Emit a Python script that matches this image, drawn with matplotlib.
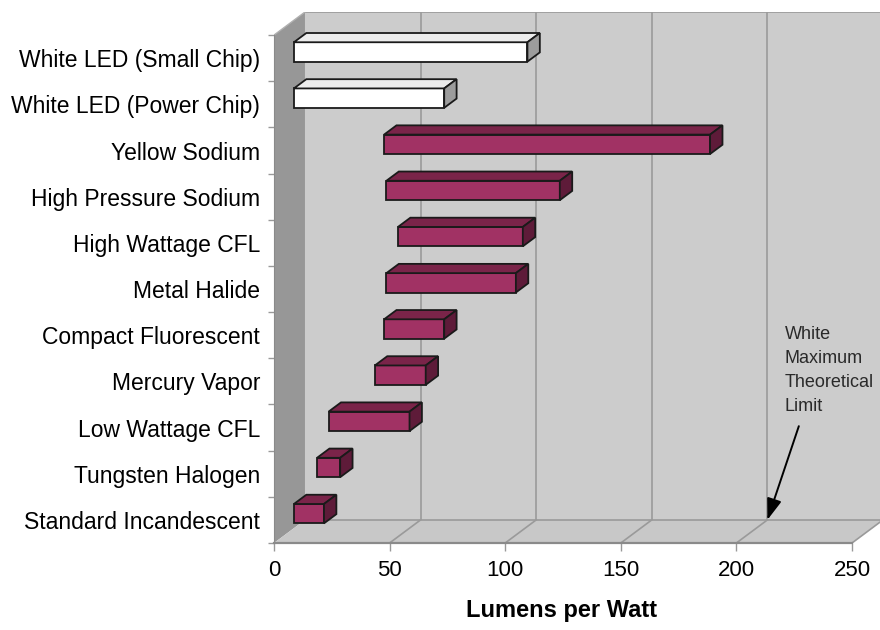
import matplotlib
matplotlib.use('Agg')
import matplotlib.pyplot as plt
from matplotlib.patches import Polygon

plt.rcParams['font.family'] = ['Liberation Sans', 'DejaVu Sans']

# bottom to top
lamps = ['Standard Incandescent', 'Tungsten Halogen', 'Low Wattage CFL',
         'Mercury Vapor', 'Compact Fluorescent', 'Metal Halide',
         'High Wattage CFL', 'High Pressure Sodium', 'Yellow Sodium',
         'White LED (Power Chip)', 'White LED (Small Chip)']
low = [5, 15, 20, 40, 44, 45, 50, 45, 44, 5, 5]
high = [18, 25, 55, 62, 70, 101, 104, 120, 185, 70, 106]
is_white = [False] * 9 + [True] * 2
xticks = [0, 50, 100, 150, 200, 250]
limit_value = 200
note = 'White\nMaximum\nTheoretical\nLimit'

# fake 3d: full depth shift in data units
DX, DY = 13.4, 0.5
d0, bd = 0.27, 0.40   # bar front depth and bar thickness (fraction of depth)
H = 0.42

fig = plt.figure(figsize=(8.8, 6.3), dpi=100)
ax = fig.add_axes([274 / 880, 87 / 630, 606 / 880, 531 / 630])
ax.set_xlim(0, 606 / 2.312)
ax.set_ylim(-0.5, 11.0)
ax.patch.set_visible(False)

n = len(lamps)
top_y = n - 0.5
bot_y = -0.5
xmax = xticks[-1]

# back wall
ax.add_patch(Polygon([(DX, bot_y + DY), (xmax + DX, bot_y + DY),
                      (xmax + DX, top_y + DY), (DX, top_y + DY)],
                     closed=True, fc='#cccccc', ec='none', zorder=0))
ax.plot([DX, xmax + DX], [top_y + DY, top_y + DY], color='#999999', lw=1.2, zorder=1)
for v in xticks[1:]:
    ax.plot([v + DX, v + DX], [bot_y + DY, top_y + DY], color='#9a9a9a', lw=1.2, zorder=1)
# left wall
ax.add_patch(Polygon([(0, bot_y), (DX, bot_y + DY), (DX, top_y + DY), (0, top_y)],
                     closed=True, fc='#979797', ec='none', zorder=1))
ax.plot([0, DX], [top_y, top_y + DY], color='#b0b0b0', lw=1, zorder=1)
# floor
ax.add_patch(Polygon([(0, bot_y), (xmax, bot_y), (xmax + DX, bot_y + DY), (DX, bot_y + DY)],
                     closed=True, fc='#c8c8c8', ec='none', zorder=1))
ax.plot([DX, xmax + DX], [bot_y + DY, bot_y + DY], color='#9a9a9a', lw=1.2, zorder=1)
for v in xticks[1:]:
    ax.plot([v, v + DX], [bot_y, bot_y + DY], color='#9a9a9a', lw=1.2, zorder=1)

# bars
ox, oy = d0 * DX, d0 * DY
bx, by = bd * DX, bd * DY
for i in range(n - 1, -1, -1):
    a, b = low[i] + ox, high[i] + ox
    y0, y1 = i + oy - H / 2, i + oy + H / 2
    if is_white[i]:
        cf, ct, cs = '#ffffff', '#ececec', '#9c9c9c'
    else:
        cf, ct, cs = '#a13264', '#7a2449', '#5e1b39'
    kw = dict(closed=True, ec='#1a1a1a', lw=1.3, joinstyle='miter', zorder=3)
    ax.add_patch(Polygon([(a, y0), (b, y0), (b, y1), (a, y1)], fc=cf, **kw))
    ax.add_patch(Polygon([(a, y1), (b, y1), (b + bx, y1 + by), (a + bx, y1 + by)], fc=ct, **kw))
    ax.add_patch(Polygon([(b, y0), (b + bx, y0 + by), (b + bx, y1 + by), (b, y1)], fc=cs, **kw))

# annotation
ax.text(221, 4.2, note, ha='left', va='top', fontsize=13, color='#2a2a2a',
        linespacing=1.55, zorder=4)
ax.annotate('', xy=(limit_value + DX, bot_y + DY), xytext=(227, 2.03),
            arrowprops=dict(arrowstyle='-|>,head_length=1.3,head_width=0.45',
                            color='black', lw=1.4, shrinkA=0, shrinkB=0), zorder=4)

# axes
for s in ['top', 'right']:
    ax.spines[s].set_visible(False)
ax.spines['bottom'].set_bounds(0, xmax)
ax.spines['bottom'].set_color('#8a8a8a')
ax.spines['bottom'].set_linewidth(1.6)
ax.spines['left'].set_bounds(bot_y, top_y)
ax.spines['left'].set_color('#8a8a8a')
ax.spines['left'].set_linewidth(0.8)

ax.set_xticks(xticks)
ax.set_xticklabels([str(v) for v in xticks], fontsize=16)
ax.tick_params(axis='x', direction='out', length=5.5, width=1, color='#999999', pad=7)
ax.set_yticks(range(n))
ax.set_yticklabels(lamps, fontsize=16.5)
ax.set_yticks([k - 0.5 for k in range(n + 1)], minor=True)
ax.tick_params(axis='y', which='major', length=0, pad=10)
ax.tick_params(axis='y', which='minor', direction='out', length=4, width=1, color='#999999')
ax.set_xlabel('Lumens per Watt', fontsize=17, fontweight='bold')
ax.xaxis.set_label_coords((562 - 274) / 606, -0.105)

fig.savefig('out.png', dpi=100)
